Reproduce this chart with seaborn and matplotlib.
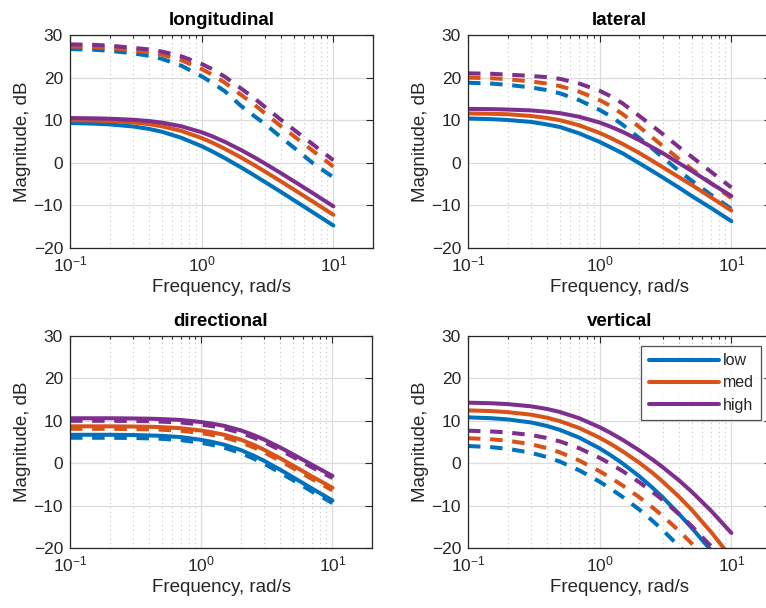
import numpy as np
import pandas as pd
import matplotlib
matplotlib.use("Agg")
import matplotlib.pyplot as plt
import seaborn as sns
from matplotlib.ticker import LogLocator, FixedLocator, NullFormatter

# ---------------- data ----------------
freq = [0.1, 0.15, 0.2, 0.3, 0.4, 0.5, 0.7, 1, 1.2, 1.5, 2, 2.5, 3, 4, 5, 7, 10]
levels = ["low", "med", "high"]
panels = ["longitudinal", "lateral", "directional", "vertical"]

lon_low_solid = [9.34, 9.2, 9.02, 8.54, 7.94, 7.28, 5.88, 3.89, 2.69, 1.09, -1.12, -2.92, -4.43, -6.84, -8.75, -11.64, -14.72]
lon_med_solid = [10.03, 9.94, 9.82, 9.48, 9.06, 8.57, 7.49, 5.81, 4.75, 3.29, 1.21, -0.52, -1.99, -4.37, -6.25, -9.12, -12.2]
lon_high_solid = [10.5, 10.44, 10.35, 10.11, 9.8, 9.43, 8.57, 7.16, 6.24, 4.92, 2.97, 1.32, -0.11, -2.44, -4.3, -7.15, -10.21]
lon_low_dash = [26.7, 26.55, 26.3, 25.7, 25.1, 24.4, 22.8, 20.3, 18.8, 16.8, 13.3, 11.0, 9.2, 6.0, 3.6, -0.1, -3.4]
lon_med_dash = [27.3, 27.2, 26.95, 26.4, 25.95, 25.4, 24.1, 22.0, 20.7, 18.8, 15.9, 13.7, 11.7, 8.6, 6.3, 2.8, -0.9]
lon_high_dash = [27.8, 27.7, 27.5, 27.0, 26.6, 26.1, 25.0, 23.2, 22.0, 20.2, 17.4, 15.2, 13.2, 10.1, 7.8, 4.3, 0.6]

lat_low_solid = [10.4, 10.25, 10.05, 9.6, 8.98, 8.4, 6.9, 4.9, 3.7, 2.2, -0.1, -1.9, -3.4, -5.83, -7.8, -10.6, -13.7]
lat_med_solid = [11.6, 11.5, 11.4, 11.0, 10.52, 10.0, 8.8, 7.0, 5.89, 4.4, 2.3, 0.5, -1.0, -3.38, -5.2, -8.1, -11.2]
lat_high_solid = [12.65, 12.6, 12.5, 12.3, 11.98, 11.65, 10.8, 9.45, 8.52, 7.25, 5.3, 3.66, 2.3, -0.08, -1.9, -4.8, -7.8]
lat_low_dash = [18.8, 18.6, 18.3, 17.7, 17.05, 16.3, 14.7, 12.4, 11.0, 8.9, 5.8, 3.4, 1.3, -1.9, -4.2, -7.5, -10.8]
lat_med_dash = [20.0, 19.85, 19.6, 19.1, 18.6, 18.0, 16.7, 14.7, 13.4, 11.4, 8.4, 6.0, 4.0, 0.9, -1.5, -4.8, -8.3]
lat_high_dash = [21.0, 20.9, 20.7, 20.4, 20.1, 19.7, 18.6, 16.9, 15.7, 13.9, 11.0, 8.7, 6.8, 3.7, 1.4, -2.1, -5.8]

dir_low_solid = [6.7, 6.7, 6.7, 6.65, 6.55, 6.45, 6.15, 5.5, 5.05, 4.35, 3.1, 1.8, 0.6, -1.55, -3.3, -6.0, -8.8]
dir_med_solid = [8.7, 8.7, 8.7, 8.65, 8.6, 8.5, 8.25, 7.7, 7.3, 6.7, 5.55, 4.35, 3.2, 1.15, -0.55, -3.15, -5.8]
dir_high_solid = [10.6, 10.6, 10.6, 10.55, 10.5, 10.4, 10.2, 9.7, 9.35, 8.8, 7.75, 6.65, 5.6, 3.7, 2.1, -0.4, -3.0]
dir_low_dash = [6.0, 6.0, 6.0, 5.95, 5.85, 5.75, 5.45, 4.8, 4.35, 3.65, 2.4, 1.1, -0.1, -2.25, -4.0, -6.7, -9.4]
dir_med_dash = [8.1, 8.1, 8.1, 8.05, 8.0, 7.9, 7.65, 7.1, 6.7, 6.1, 4.95, 3.75, 2.6, 0.55, -1.15, -3.75, -6.4]
dir_high_dash = [10.0, 10.0, 10.0, 9.95, 9.9, 9.8, 9.6, 9.1, 8.75, 8.2, 7.15, 6.05, 5.0, 3.1, 1.5, -1.0, -3.5]

ver_low_solid = [10.82, 10.61, 10.33, 9.62, 8.76, 7.85, 6.03, 3.49, 1.97, -0.1, -3.09, -5.7, -8.0, -11.96, -15.26, -20.54, -26.42]
ver_med_solid = [12.46, 12.29, 12.05, 11.45, 10.72, 9.91, 8.29, 6.0, 4.63, 2.77, 0.1, -2.19, -4.3, -7.9, -11.0, -16.2, -22.3]
ver_high_solid = [14.28, 14.14, 13.94, 13.42, 12.78, 12.07, 10.6, 8.48, 7.2, 5.48, 3.02, 0.93, -0.9, -4.04, -6.73, -11.2, -16.45]
ver_low_dash = [4.06, 3.78, 3.4, 2.47, 1.43, 0.36, -1.69, -4.37, -5.93, -8.0, -10.95, -13.49, -15.73, -19.58, -22.8, -28.0, -33.81]
ver_med_dash = [5.89, 5.64, 5.31, 4.48, 3.53, 2.54, 0.63, -1.9, -3.36, -5.3, -8.04, -10.36, -12.41, -15.94, -18.94, -23.85, -29.44]
ver_high_dash = [7.66, 7.49, 7.25, 6.65, 5.93, 5.13, 3.52, 1.26, -0.09, -1.9, -4.49, -6.7, -8.64, -11.99, -14.84, -19.57, -25.03]

yticks = [-20, -10, 0, 10, 20, 30]
xlabel = "Frequency, rad/s"
ylabel = "Magnitude, dB"

series = {
    "longitudinal": {"solid": [lon_low_solid, lon_med_solid, lon_high_solid],
                     "dash": [lon_low_dash, lon_med_dash, lon_high_dash]},
    "lateral": {"solid": [lat_low_solid, lat_med_solid, lat_high_solid],
                "dash": [lat_low_dash, lat_med_dash, lat_high_dash]},
    "directional": {"solid": [dir_low_solid, dir_med_solid, dir_high_solid],
                    "dash": [dir_low_dash, dir_med_dash, dir_high_dash]},
    "vertical": {"solid": [ver_low_solid, ver_med_solid, ver_high_solid],
                 "dash": [ver_low_dash, ver_med_dash, ver_high_dash]},
}

rows = []
for p in panels:
    for kind in ("solid", "dash"):
        for lev, vals in zip(levels, series[p][kind]):
            for f, v in zip(freq, vals):
                rows.append({"panel": p, "kind": kind, "level": lev, "freq": f, "mag": v})
df = pd.DataFrame(rows)

# ---------------- style ----------------
sns.set_theme(style="white")
plt.rcParams["font.family"] = ["Liberation Sans", "DejaVu Sans"]
plt.rcParams["mathtext.fontset"] = "custom"
plt.rcParams["mathtext.rm"] = "Liberation Sans"
plt.rcParams["mathtext.it"] = "Liberation Sans:italic"

palette = {"low": "#0072BD", "med": "#D95319", "high": "#7E2F8E"}
dashes = {"solid": "", "dash": (3.1, 2.4)}
txt = "#262626"

fig = plt.figure(figsize=(7.66, 6.08), dpi=100)
W, H = 766.0, 608.0
boxes = {
    "longitudinal": (70, 35, 373, 248),
    "lateral": (468, 35, 771, 248),
    "directional": (70, 336, 372, 548),
    "vertical": (468, 336, 771, 548),
}

for p in panels:
    x0, y0, x1, y1 = boxes[p]
    ax = fig.add_axes([x0 / W, (H - y1) / H, (x1 - x0) / W, (y1 - y0) / H])
    sub = df[df["panel"] == p]
    sns.lineplot(data=sub, x="freq", y="mag", hue="level", style="kind",
                 palette=palette, dashes=dashes, hue_order=levels,
                 style_order=["solid", "dash"], linewidth=2.9, ax=ax,
                 legend=False, estimator=None, sort=True)
    ax.set_xscale("log")
    ax.set_xlim(0.1, 20)
    ax.set_ylim(-20, 30)
    ax.set_yticks(yticks)
    ax.xaxis.set_major_locator(FixedLocator([0.1, 1, 10]))
    ax.xaxis.set_minor_locator(LogLocator(base=10, subs=np.arange(2, 10), numticks=20))
    ax.xaxis.set_minor_formatter(NullFormatter())
    ax.grid(True, which="major", color="#dcdcdc", linewidth=0.9)
    ax.grid(True, which="minor", axis="x", color="#c4c4c4", linestyle=(0, (1, 3)), linewidth=0.8)
    ax.set_axisbelow(True)
    for s in ax.spines.values():
        s.set_color(txt)
        s.set_linewidth(0.9)
    ax.tick_params(which="both", direction="in", top=True, right=True,
                   colors=txt, labelcolor=txt, labelsize=12.5, width=0.8)
    ax.tick_params(which="major", length=5, pad=5)
    ax.tick_params(which="minor", length=2.5)
    ax.set_xlabel(xlabel, fontsize=13.5, color=txt, labelpad=3)
    ax.set_ylabel(ylabel, fontsize=13.5, color=txt, labelpad=2)
    ax.set_title(p, fontsize=13.5, fontweight="bold", color="black", pad=7)

    if p == "vertical":
        solid_lines = [ln for ln in ax.get_lines() if ln.get_linestyle() == "-"][:3]
        leg = ax.legend(solid_lines, levels, loc="upper right",
                        bbox_to_anchor=(0.967, 0.953), fontsize=11.5,
                        frameon=True, fancybox=False, edgecolor=txt,
                        handlelength=4.4, handletextpad=0.25, borderpad=0.45,
                        labelspacing=0.45, borderaxespad=0)
        leg.get_frame().set_linewidth(0.9)

fig.savefig("out.png", dpi=100)
